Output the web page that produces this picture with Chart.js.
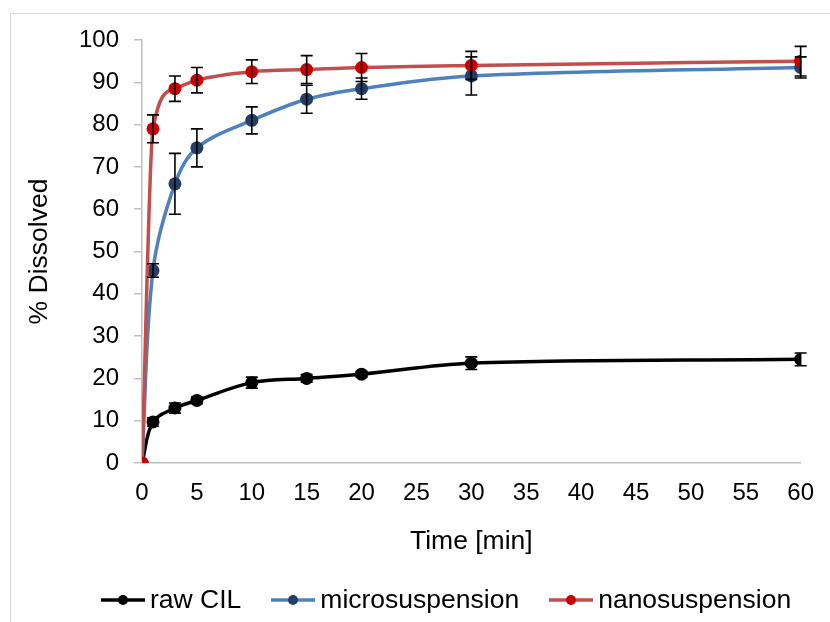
<!DOCTYPE html>
<html>
<head>
<meta charset="utf-8">
<script src="https://cdn.jsdelivr.net/npm/chart.js@4.4.1/dist/chart.umd.min.js"></script>
<style>
  html, body { margin: 0; padding: 0; background: #fff; }
  #wrap { position: relative; width: 830px; height: 622px; overflow: hidden; }
  #frame { position: absolute; left: 10px; top: 13px; right: -5px; bottom: -5px;
           border-top: 1px solid #d9d9d9; border-left: 1px solid #d9d9d9; pointer-events: none; }
  #legend { position: absolute; left: 101px; top: 584px; display: flex; align-items: center;
            font-family: 'Liberation Sans', Arial, sans-serif; font-size: 26.5px; color: #000; white-space: nowrap; }
  .item { display: flex; align-items: center; margin-right: 30px; }
  .item canvas { margin-right: 5px; }
</style>
</head>
<body>
<div id="wrap">
  <canvas id="chart" width="830" height="622"></canvas>
  <div id="legend"></div>
  <div id="frame"></div>
</div>
<script>
// time points (min)
const times = [0, 1, 3, 5, 10, 15, 20, 30, 60];

const rawCIL = [0, 9.7, 13, 14.8, 19, 20, 21, 23.6, 24.5];
const rawErr = [0, 1, 1.2, 0.8, 1.3, 0.9, 0.7, 1.5, 1.5];

const micro = [0, 45.5, 66, 74.5, 81, 86, 88.5, 91.5, 93.5];
const microErr = [0, 1.6, 7.2, 4.5, 3.2, 3.3, 2.5, 4.5, 2.5];

const nano = [0, 79, 88.5, 90.5, 92.5, 93, 93.5, 94, 95];
const nanoErr = [0, 3.3, 3, 3, 2.8, 3.3, 3.3, 3.3, 3.5];

const yTicks = [0, 10, 20, 30, 40, 50, 60, 70, 80, 90, 100];
const xTicks = [0, 5, 10, 15, 20, 25, 30, 35, 40, 45, 50, 55, 60];

const toPoints = (vals) => times.map((t, i) => ({ x: t, y: vals[i] }));

// legend symbol: short line with dot in the middle
function legendSymbol(lineColor, dotColor) {
    const c = document.createElement('canvas');
    c.width = 44; c.height = 16;
    const g = c.getContext('2d');
    g.strokeStyle = lineColor;
    g.lineWidth = 3.5;
    g.beginPath(); g.moveTo(0, 8); g.lineTo(44, 8); g.stroke();
    g.fillStyle = dotColor;
    g.beginPath(); g.arc(22, 8, 5, 0, Math.PI * 2); g.fill();
    return c;
}

const errorBars = {
    id: 'errorBars',
    afterDatasetsDraw(chart) {
        const ctx = chart.ctx;
        const xs = chart.scales.x, ys = chart.scales.y;
        ctx.save();
        ctx.strokeStyle = '#000';
        ctx.lineWidth = 1.6;
        chart.data.datasets.forEach(ds => {
            ds.data.forEach((p, i) => {
                const e = ds.errors[i];
                if (!e) return;
                const px = xs.getPixelForValue(p.x);
                const top = ys.getPixelForValue(p.y + e);
                const bot = ys.getPixelForValue(p.y - e);
                ctx.beginPath();
                ctx.moveTo(px, top); ctx.lineTo(px, bot);
                ctx.moveTo(px - 6, top); ctx.lineTo(px + 6, top);
                ctx.moveTo(px - 6, bot); ctx.lineTo(px + 6, bot);
                ctx.stroke();
            });
        });
        ctx.restore();
    }
};

const font = 'Liberation Sans, Arial, sans-serif';

const chart = new Chart(document.getElementById('chart'), {
    type: 'line',
    data: {
        datasets: [
            {
                label: 'raw CIL', data: toPoints(rawCIL), errors: rawErr,
                borderColor: '#000000', backgroundColor: '#000000',
                pointBackgroundColor: '#000000', pointBorderColor: '#000000',
                dotColor: '#000000', order: 2, tension: 0.35
            },
            {
                label: 'microsuspension', data: toPoints(micro), errors: microErr,
                borderColor: '#4f81bd', backgroundColor: '#4f81bd',
                pointBackgroundColor: '#243f66', pointBorderColor: '#243f66',
                dotColor: '#243f66', order: 1, tension: 0.35
            },
            {
                label: 'nanosuspension', data: toPoints(nano), errors: nanoErr,
                borderColor: '#c0504d', backgroundColor: '#c0504d',
                pointBackgroundColor: '#cc0000', pointBorderColor: '#cc0000',
                dotColor: '#cc0000', order: 0, cubicInterpolationMode: 'monotone'
            }
        ]
    },
    options: {
        responsive: false,
        animation: false,
        layout: { padding: { left: 0, right: 29, top: 40, bottom: 50 } },
        elements: {
            line: { borderWidth: 3.5 },
            point: { radius: 6.5, borderWidth: 0 }
        },
        scales: {
            x: {
                type: 'linear', min: 0, max: 60,
                afterBuildTicks: s => { s.ticks = xTicks.map(v => ({ value: v })); },
                grid: { display: true, drawOnChartArea: false, drawTicks: false, color: '#bfbfbf' },
                border: { color: '#bfbfbf', width: 1.5 },
                ticks: { color: '#000', font: { family: font, size: 24 }, padding: 16, maxRotation: 0 },
                title: { display: true, text: 'Time [min]', color: '#000', font: { family: font, size: 26.5 }, padding: { top: 0, bottom: 14 } },
                afterFit: s => { s.height = 109; }
            },
            y: {
                min: 0, max: 100,
                afterBuildTicks: s => { s.ticks = yTicks.map(v => ({ value: v })); },
                grid: { drawOnChartArea: false, tickLength: 8, color: '#bfbfbf', lineWidth: 1.5 },
                border: { color: '#bfbfbf', width: 1.5 },
                ticks: { color: '#000', font: { family: font, size: 24 }, padding: 15 },
                title: { display: true, text: '% Dissolved', color: '#000', font: { family: font, size: 26.5 }, padding: { top: 24, bottom: 0 } },
                afterFit: s => { s.width = 142; }
            }
        },
        plugins: {
            tooltip: { enabled: false },
            legend: { display: false }
        }
    },
    plugins: [errorBars]
});

// build legend from the datasets
const legendEl = document.getElementById('legend');
chart.data.datasets.forEach(ds => {
    const item = document.createElement('div');
    item.className = 'item';
    item.appendChild(legendSymbol(ds.borderColor, ds.dotColor));
    const txt = document.createElement('span');
    txt.textContent = ds.label;
    item.appendChild(txt);
    legendEl.appendChild(item);
});
</script>
</body>
</html>
